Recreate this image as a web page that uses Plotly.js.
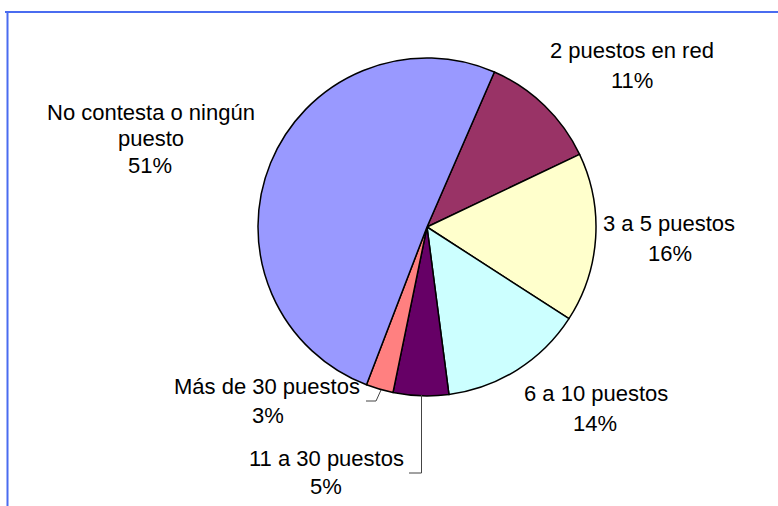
<!DOCTYPE html>
<html>
<head>
<meta charset="utf-8">
<script src="https://cdn.plot.ly/plotly-3.0.1.min.js"></script>
<style>html,body{margin:0;padding:0;background:#fff;}#chart{width:778px;height:506px;}</style>
</head>
<body>
<div id="chart"></div>
<script>
// Data
const categories = ["2 puestos en red", "3 a 5 puestos", "6 a 10 puestos", "11 a 30 puestos", "Más de 30 puestos", "No contesta o ningún puesto"];
const values = [11.4, 16.2, 13.8, 5.3, 2.6, 50.7];
const colors = ["#993366", "#FFFFCC", "#CCFFFF", "#660066", "#FF8080", "#9999FF"];

const W = 778, H = 506;
const px = x => x / W;
const py = y => 1 - y / H;

const total = values.reduce((a, b) => a + b, 0);
const pct = values.map(v => Math.round(v / total * 100) + "%");

// label line splits and positions (pixel centers)
const labelLines = [
  ["2 puestos en red"],
  ["3 a 5 puestos"],
  ["6 a 10 puestos"],
  ["11 a 30 puestos"],
  ["Más de 30 puestos"],
  ["No contesta o ningún", "puesto"]
];
const labelPos = [
  [[632, 51], [632, 81]],
  [[669, 223], [670, 253]],
  [[596, 393], [595, 423]],
  [[326, 458], [326, 486]],
  [[267, 386], [268, 415]],
  [[151, 112], [151, 139], [150, 165]]
];

const font = {family: "Liberation Sans, Arial, sans-serif", size: 22, color: "#000"};
const annotations = [];
categories.forEach((c, i) => {
  const lines = labelLines[i].concat([pct[i]]);
  lines.forEach((t, j) => {
    const p = labelPos[i][j];
    annotations.push({
      text: t, x: px(p[0]), y: py(p[1]), xref: "paper", yref: "paper",
      showarrow: false, xanchor: "center", yanchor: "middle", font: font
    });
  });
});

const lineStyle = {color: "#444", width: 1};
function seg(x0, y0, x1, y1, line) {
  return {type: "line", xref: "paper", yref: "paper", x0: px(x0), y0: py(y0), x1: px(x1), y1: py(y1), line: line};
}
const shapes = [
  // frame
  seg(5, 12, 778, 12, {color: "#4a6cf0", width: 2}),
  seg(7.5, 11, 7.5, 506, {color: "#4a6cf0", width: 2}),
  // leader lines
  seg(381, 390, 376, 401, lineStyle),
  seg(376, 401, 366, 401, lineStyle),
  seg(421.5, 395, 421.5, 473, lineStyle),
  seg(421.5, 473, 409, 473, lineStyle)
];

const cx = 427, cy = 227, r = 169;
const trace = {
  type: "pie",
  labels: categories,
  values: values,
  sort: false,
  direction: "clockwise",
  rotation: 23.5,
  textinfo: "none",
  hoverinfo: "label+percent",
  marker: {colors: colors, line: {color: "#000", width: 1.5}},
  domain: {x: [px(cx - r), px(cx + r)], y: [py(cy + r), py(cy - r)]},
  showlegend: false
};

const layout = {
  width: W, height: H,
  margin: {l: 0, r: 0, t: 0, b: 0},
  paper_bgcolor: "#fff",
  showlegend: false,
  annotations: annotations,
  shapes: shapes
};

Plotly.newPlot("chart", [trace], layout, {displayModeBar: false, staticPlot: true});
</script>
</body>
</html>
